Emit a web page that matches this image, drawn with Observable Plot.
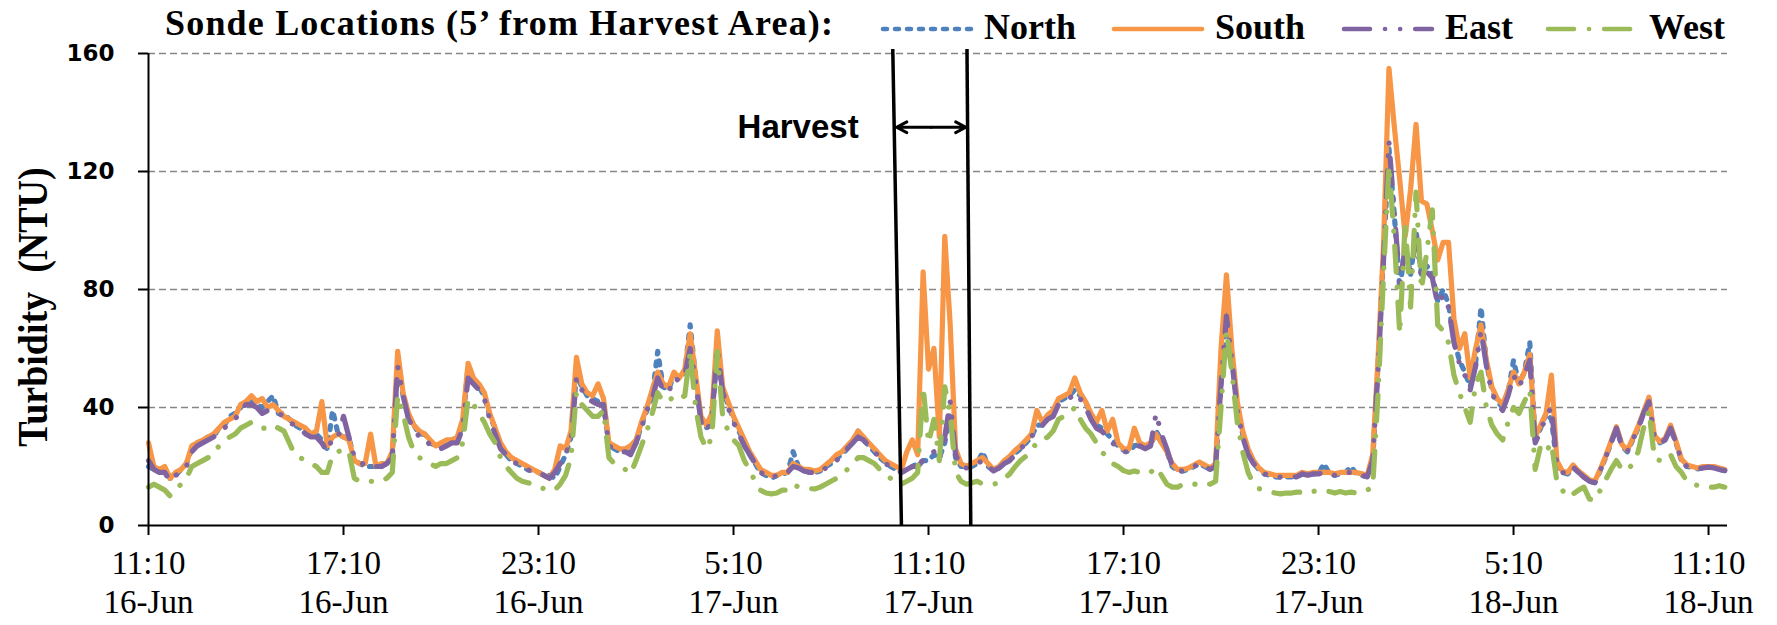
<!DOCTYPE html>
<html><head><meta charset="utf-8">
<script src="https://cdn.jsdelivr.net/npm/d3@7"></script>
<script src="https://cdn.jsdelivr.net/npm/@observablehq/plot@0.6"></script>
<style>
html,body{margin:0;padding:0;background:#fff;}
#wrap{width:1777px;height:625px;position:relative;overflow:hidden;background:#fff;}
#plot{position:absolute;left:0;top:40px;}
#legend{position:absolute;left:0;top:0;z-index:2;pointer-events:none;}
svg{display:block;}
</style></head><body><div id="wrap"><div id="plot"></div><div id="legend"></div></div>
<script>
// ---- data (10-minute readings starting 16-Jun 11:10) ----
const startTime = "2013-06-16T11:10:00";
const stepMinutes = 10;
const seriesNames = ["North", "South", "East", "West"];
const seriesColors = ["#4F81BD", "#F79646", "#8064A2", "#9BBB59"];
const seriesDashes = ["4,8", null, "26,15,0.1,15,0.1,15", "26,15,0.1,15"];

const north = [
20,19,18.5,19,16,17, 19,21,26,28,29,30, 30,33,34,37,38,40, 42,42,41,40,42,44,
38,38,36,34,33,32, 31,31,29,26,39,31, 30,30,22,21,20,20, 20,20,21,24,54,44,
37,34,31,31,28,27, 27,28,29,29,34,54, 49,47,44,37,33,27, 24,22,21,20,19,18.5,
18,17,17,16,20,24, 30,51,47,44,43,42, 42,27,26,25,25,25, 28,34,39,44,59,47,
46,51,50,52,68,50, 36,33,37,58,46,41, 36,32,28,24,21,18, 17,16,17,17.5,18,25,
20,18.6,18.5,18,18.5,20, 21,23,24,26,28,32, 29,27,25,23,21.5,20, 19,18,19,20,21,22,
22,24,23,28,38,23, 20,20,20,21,25,20, 18.6,19.5,21,22.5,24.5,26, 28,30,34,34,36,38,
42,43,44,46,44,42, 37,34,33,31,29,27, 25.5,25,27,27.5,27,27, 32,29,25,20,18.6,18.5,
19,20,21,20,19,20, 48,72,57,40,31,25, 21,19,17.5,17,16.5,16.4, 16.5,16.5,16.5,17.5,17,17.5,
17.5,21,17.5,17,17.5,18, 20,17.5,17,16.5,22,55, 92,128,105,80,95,85, 100,85,88,85,76,80,
75,63,56,52,47,55, 74,55,46,42,40,45, 56,48,52,62,29,33, 38,36,21,18,17.5,19.8,
18,16.4,15,14.5,18.6,23, 28,33,27,25,29,33, 38,43,30,28,29,33, 28,22,20,19.8,19.2,19.5,
19.8,19.8,19,18.6];

const south = [
28,20,19,20,16,18, 19,21,27,28,29,30, 31,33,35,36,37,41, 42,44,42,43,40,41,
39,37,36,35,34,33, 31,32,42,27,30,31, 30,29,22,21,21,31, 20,21,21,25,59,45,
38,34,32,31,29,27, 28,29,29,30,36,55, 50,48,45,38,33,28, 25,23,22,21,20,19,
18,17,16,19,27,26, 32,57,48,45,44,48, 43,28,27,26,26,27, 29,35,40,46,52,48,
47,52,50,53,65,51, 37,34,38,66,47,42, 37,33,29,25,22,19, 18,17,17,18,18,21,
20,19,19,18.5,19,20.5, 22,24,25,27,29,32, 30,28,26,24,22,21, 20,19,25,29,24,86,
53,60,30,98,68,26, 21,20,21,22,23,21, 19,20,22,23.5,25.5,27, 29,31,39,35,37.5,39,
43,44,45,50,45,42, 38,35,39,32,36,28, 26,26,33,28,27,28, 31,28,25,21,19,19,
19.5,20.5,21.5,20.5,19.5,21, 60,85,60,42,32,26, 22,19.5,18,17.5,17,17, 17,17,17,18,17.5,18,
18,18,18,17.5,18,18, 18,18,17.5,17,24,57, 95,155,135,117,98,114, 136,110,109,100,90,96,
96,70,60,65,50,60, 68,56,47,43,41,46, 52,48,52,58,30,34, 38,51,22,18.5,18,20.5,
18.5,17,15.5,15,19,23.5, 28.5,33.5,27.5,25.5,29.5,33.5, 38.5,43.5,30.5,28.5,29.5,34, 28.5,22.5,20.5,20,19.5,20,
20,20,19.5,19];

const east = [
22,19,18,18,15,17, 18,20,25,27,28,29, 30,32,33,35,36,39, 41,41,40,38,39,38,
38,37,35,34,33,31, 30,30,28,25,30,30, 37,30,23,22,20,20, 20,20,21,23,54,44,
36,33,30,30,27,26, 26,27,28,28,33,50, 48,46,43,36,31,26, 24,22,21,20,19,18,
18,17,16,18,21,24, 29,50,46,43,42,41, 41,27,26,25,25,24, 28,33,39,43,50,46,
45,50,49,51,60,49, 35,32,36,60,45,40, 35,31,27,24,21,18, 17,16,17,17,18,20,
19.5,18.5,18,18,18,19.5, 21,22,24,26,28,30, 29,27,25,23,21,20, 19,18,19,20,20,22,
24,25,22,30,42,24, 20,19.5,20,21,22,20, 18.5,19.5,21,22,24,26, 28,30,33,34,36,37,
41,42,43,45,43,40, 36,33,32,30,28,26, 25,25,26,27,26,27, 38,31,26,20,18.5,18.5,
19,20,21,20,19,20, 48,71,56,39,30,24, 21,19,17.5,17,16.5,16.4, 16.5,16.4,16.5,17.5,17,17.5,
17.5,18,17.5,17,17.5,18, 18,17.5,17,16.5,22,53, 90,130,106,82,94,84, 98,84,86,84,75,78,
74,62,55,51,46,54, 66,54,45,41,39,44, 51,47,51,56,28,32, 37,40,21,18,17.5,19.8,
18,16.4,15,14.5,18.6,23, 28,33,27,25,29,33, 38,42,30,28,29,33, 28,22,20,19.8,19.2,19.5,
19.8,19.5,19,18.6];

const west = [
13,14,13,12,10,12, 14,16,20,21,22,23, 24,27,29,30,31,33, 34,35,34,33,33,34,
33,32,28,24,23,22, 21,20,18,18,24,25, 26,25,16,15,15,15, 15,15,16,18,44,38,
30,25,23,22,21,20, 21,21,22,23,28,43, 41,38,35,31,28,23, 20,18,16,15,14.5,14,
13,12.5,12,12,14,17, 23,45,41,39,37,37, 39,23,21,20,19,17.5, 22,27,32,38,45,42,
42,44,43,44,59,40, 30,26,30,59,37,32, 29,27,22,18.6,15,12, 11,10.7,11,12,12,14,
13,13,12.5,12.4,13,14, 15,16,17,19,21,23, 23,22,21,19,17,16, 14,14,15,16,18,47,
28,36,22,47,38,18, 15,14,14.5,15,14,14, 14,14.5,16,17.5,20,22, 23.5,25,28.5,29,30,32,
36,37,38,40,36,33, 31,28,25,23,21,20, 18.6,18,18.5,18,17.5,18, 19.8,17,14,13,13,14,
14,14,14,14.5,14,15, 40,66,52,35,25,18, 14,12.5,12,11.5,11,10.7, 11,11,11.3,11.3,12,11.5,
12,11.9,11.5,11,11.5,11, 11.3,11,12,12,13,45, 85,122,97,65,103,74, 113,80,93,107,68,66,
62,51,45,40,35,48, 52,40,34,31,29,35, 40,38,42,46,19,27, 25,28,15,12,9.6,10.7,
12,13,9,8.5,11.9,15.5, 19,22,19,18.6,21,25, 33,39,23,22,22,24, 20,18,15,14,13.6,13.5,
13,13,13.5,13];

const xDomain = ["2013-06-16T11:10", "2013-06-18T11:45"];
const yTicks = [0, 40, 80, 120, 160];
const xTickDates = ["2013-06-16T11:10","2013-06-16T17:10","2013-06-16T23:10","2013-06-17T05:10",
  "2013-06-17T11:10","2013-06-17T17:10","2013-06-17T23:10","2013-06-18T05:10","2013-06-18T11:10"];
const xTickTimes = ["11:10","17:10","23:10","5:10","11:10","17:10","23:10","5:10","11:10"];
const xTickDays = ["16-Jun","16-Jun","16-Jun","17-Jun","17-Jun","17-Jun","17-Jun","18-Jun","18-Jun"];
const yLabel = "Turbidity\u00a0 (NTU)";
const legendTitle = "Sonde Locations (5\u2019 from Harvest Area):";

// harvest annotation
const harvestLines = [
  {x1: "2013-06-17T10:20", y1: 0, x2: "2013-06-17T10:04", y2: 161.5},
  {x1: "2013-06-17T12:28", y1: 0, x2: "2013-06-17T12:21", y2: 161.5}
];
const harvestArrows = [
  {from: "2013-06-17T11:15", to: "2013-06-17T10:11", v: 135},
  {from: "2013-06-17T11:15", to: "2013-06-17T12:19", v: 135}
];
const harvestLabel = [{time: "2013-06-17T09:01", v: 135, text: "Harvest"}];

// ---- build ----
const seriesValues = [north, south, east, west];
const t0 = new Date(startTime);
const rows = seriesNames.map((name, k) =>
  seriesValues[k].map((v, i) => ({series: name, time: new Date(+t0 + i * stepMinutes * 60000), value: v})));
const pd = s => new Date(s);
const labelMap = new Map(xTickDates.map((d, i) => [+pd(d), xTickTimes[i] + "\n" + xTickDays[i]]));

const lineMarks = seriesNames.map((name, k) => Plot.line(rows[k], {
  x: "time", y: "value", stroke: seriesColors[k], strokeWidth: 5.2,
  strokeDasharray: seriesDashes[k] || undefined, strokeLinecap: "round", strokeLinejoin: "round"
}));

const chart = Plot.plot({
  width: 1777, height: 585,
  marginLeft: 148, marginRight: 50, marginTop: 13, marginBottom: 100,
  style: {background: "transparent", overflow: "visible"},
  x: {type: "time", domain: xDomain.map(pd)},
  y: {domain: [0, 160]},
  marks: [
    Plot.gridY(yTicks.filter(d => d > 0), {stroke: "#868686", strokeOpacity: 1, strokeWidth: 1.5, strokeDasharray: "7,4"}),
    ...lineMarks,
    Plot.ruleX([pd(xDomain[0])], {y1: 0, y2: 160, stroke: "black", strokeWidth: 2}),
    Plot.ruleY([0], {stroke: "black", strokeWidth: 2}),
    Plot.axisY(yTicks, {tickSize: 10, tickPadding: 24, fontSize: 23, fontWeight: "bold", fontFamily: "DejaVu Sans", strokeWidth: 2, label: null}),
    Plot.axisX(xTickDates.map(pd), {tickSize: 10, tickPadding: 10, tickFormat: d => labelMap.get(+d), fontSize: 33, fontFamily: "Liberation Serif", lineHeight: 1.2, strokeWidth: 2, label: null}),
    Plot.link(harvestLines, {x1: d => pd(d.x1), y1: "y1", x2: d => pd(d.x2), y2: "y2", stroke: "black", strokeWidth: 3.5}),
    Plot.arrow(harvestArrows, {x1: d => pd(d.from), y1: "v", x2: d => pd(d.to), y2: "v", stroke: "black", strokeWidth: 3, headLength: 25, headAngle: 55}),
    Plot.text(harvestLabel, {x: d => pd(d.time), y: "v", text: "text", textAnchor: "end", fontSize: 33, fontWeight: "bold", fontFamily: "Liberation Sans"})
  ]
});
document.getElementById("plot").appendChild(chart);

// ---- legend, title and axis label (overlay) ----
const legendLineX = [881, 1112, 1342, 1546];
const overlay = d3.create("svg").attr("width", 1777).attr("height", 625);
overlay.append("text").attr("x", 165).attr("y", 35)
  .attr("font-family", "Liberation Serif").attr("font-weight", "bold").attr("font-size", 36)
  .attr("textLength", 668).attr("lengthAdjust", "spacing").text(legendTitle);
seriesNames.forEach((name, k) => {
  const x = legendLineX[k];
  const ln = overlay.append("line").attr("x1", x + 2).attr("x2", x + 90).attr("y1", 29).attr("y2", 29)
    .attr("stroke", seriesColors[k]).attr("stroke-width", 4.6).attr("stroke-linecap", "round");
  if (seriesDashes[k]) ln.attr("stroke-dasharray", seriesDashes[k]);
  overlay.append("text").attr("x", x + 103).attr("y", 39)
    .attr("font-family", "Liberation Serif").attr("font-weight", "bold").attr("font-size", 36).text(name);
});
overlay.append("text")
  .attr("transform", "translate(47,307) rotate(-90) scale(1,1.12)")
  .attr("text-anchor", "middle")
  .attr("font-family", "Liberation Serif").attr("font-weight", "bold").attr("font-size", 38)
  .text(yLabel);
document.getElementById("legend").appendChild(overlay.node());
</script></body></html>
